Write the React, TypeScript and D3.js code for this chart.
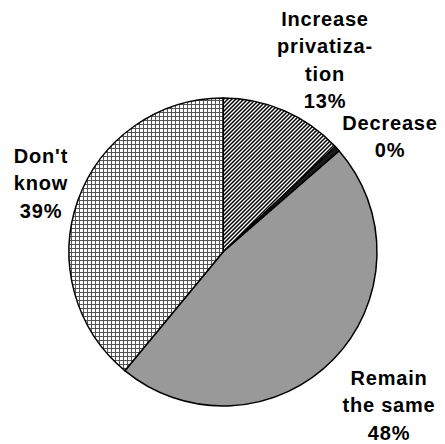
import React from "react";
import * as d3 from "d3";

const categories = ["Increase privatization", "Decrease", "Remain the same", "Don't know"];
const values = [13, 0.6, 47.4, 39];
const labelLines = [
  ["Increase", "privatiza-", "tion", "13%"],
  ["Decrease", "0%"],
  ["Remain", "the same", "48%"],
  ["Don't", "know", "39%"],
];
const fills = ["url(#diag)", "#1a1a1a", "#999999", "url(#grid)"];
const labelPos = [
  { x: 325, y: 26 },
  { x: 390, y: 130 },
  { x: 389, y: 385 },
  { x: 41, y: 163 },
];

export default function App() {
  const W = 445, H = 444;
  const cx = 223, cy = 252, r = 154;
  const pie = d3.pie<number>().sort(null).value((d) => d);
  const arcs = pie(values);
  const arc = d3.arc<d3.PieArcDatum<number>>().innerRadius(0).outerRadius(r);
  return (
    <svg width={W} height={H} style={{ position: "absolute", left: 0, top: 0, background: "#fff" }}>
      <defs>
        <pattern id="diag" width="4" height="4" patternUnits="userSpaceOnUse">
          <rect width="4" height="4" fill="#fff" />
          <path d="M-1,1 l2,-2 M0,4 l4,-4 M3,5 l2,-2" stroke="#000" strokeWidth="1.5" />
        </pattern>
        <pattern id="grid" width="4" height="4" patternUnits="userSpaceOnUse">
          <rect width="4" height="4" fill="#fff" />
          <path d="M0.5,0 V4 M0,0.5 H4" stroke="#555" strokeWidth="1" />
        </pattern>
      </defs>
      <g transform={`translate(${cx},${cy})`}>
        {arcs.map((a, i) => (
          <path key={categories[i]} d={arc(a) || ""} fill={fills[i]} stroke="#000" strokeWidth={1.5} strokeLinejoin="round" />
        ))}
      </g>
      <g fontFamily="'Liberation Sans', Arial, sans-serif" fontWeight="bold" fontSize={20} letterSpacing={0.8} fill="#000" textAnchor="middle">
        {labelLines.map((lines, i) => (
          <text key={categories[i]} x={labelPos[i].x} y={labelPos[i].y}>
            {lines.map((l, j) => (
              <tspan key={j} x={labelPos[i].x} y={labelPos[i].y + j * 27.3}>{l}</tspan>
            ))}
          </text>
        ))}
      </g>
    </svg>
  );
}
